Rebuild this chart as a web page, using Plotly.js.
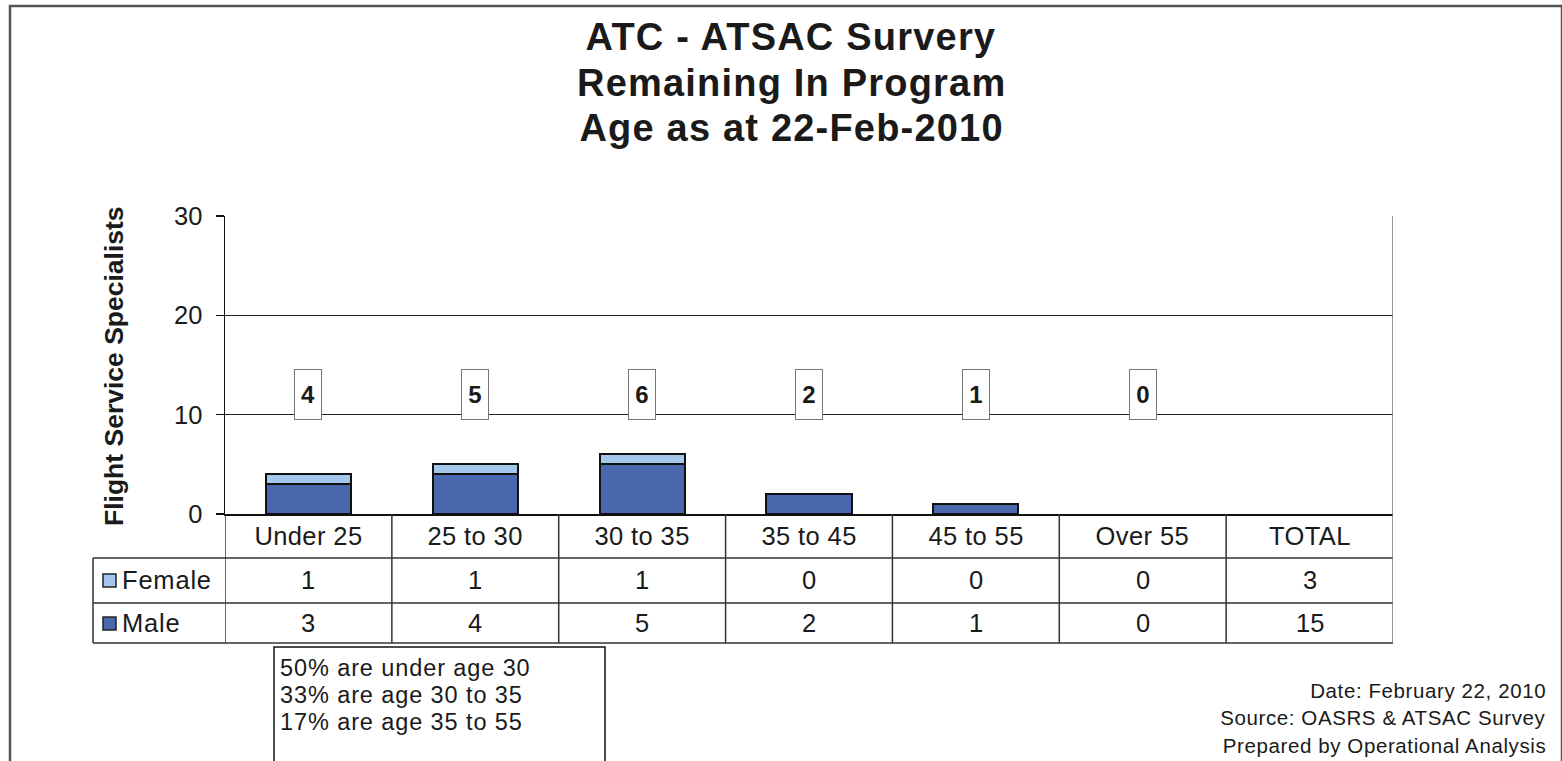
<!DOCTYPE html>
<html>
<head>
<meta charset="utf-8">
<script src="https://cdn.plot.ly/plotly-3.0.1.min.js"></script>
<style>html,body{margin:0;padding:0;background:#fff;}#chart{width:1562px;height:761px;}</style>
</head>
<body>
<div id="chart"></div>
<script>
// ---- data ----
const categories = ["Under 25", "25 to 30", "30 to 35", "35 to 45", "45 to 55", "Over 55"];
const totalLabel = "TOTAL";
const femaleCounts = [1, 1, 1, 0, 0, 0];
const maleCounts = [3, 4, 5, 2, 1, 0];
const titleLines = ["ATC - ATSAC Survery", "Remaining In Program", "Age as at 22-Feb-2010"];
const yAxisTitle = "Flight Service Specialists";
const yTicks = [0, 10, 20, 30];
const noteLines = ["50% are under age 30", "33% are age 30 to 35", "17% are age 35 to 55"];
const footerLines = ["Date: February 22, 2010", "Source: OASRS & ATSAC Survey", "Prepared by Operational Analysis"];

// ---- derived ----
const sum = a => a.reduce((s, v) => s + v, 0);
const allCats = categories.concat([totalLabel]);
const femaleTable = femaleCounts.concat([sum(femaleCounts)]);
const maleTable = maleCounts.concat([sum(maleCounts)]);
const groupTotals = categories.map((c, i) => femaleCounts[i] + maleCounts[i]);

const W = 1562, H = 761;
const px = x => x / W;
const py = y => 1 - y / H;
const FONT = "Liberation Sans, Arial, sans-serif";
const MALE_COLOR = "#4a66ad";
const FEMALE_COLOR = "#a3c8ec";
const TXT = "#1a1a1a";

const edge = vals => vals.map(v => (v ? 2 : 0));
const traces = [
  {type: "bar", name: "Male", x: categories, y: maleCounts, width: 0.51,
   marker: {color: MALE_COLOR, line: {color: "#111", width: edge(maleCounts)}}, hoverinfo: "x+y+name"},
  {type: "bar", name: "Female", x: categories, y: femaleCounts, width: 0.51,
   marker: {color: FEMALE_COLOR, line: {color: "#111", width: edge(femaleCounts)}}, hoverinfo: "x+y+name"}
];

const annotations = [];
const spacing = [];  // letter spacing per annotation (px)
const shapes = [];
const addAnn = (a, ls) => { annotations.push(a); spacing.push(ls || 0); };

// title
const titleY = [37, 83, 128];
titleLines.forEach((t, i) => addAnn({
  xref: "paper", yref: "paper", x: px(791), y: py(titleY[i]), xanchor: "center", yanchor: "middle",
  text: "<b>" + t + "</b>", showarrow: false, font: {family: FONT, size: 38, color: TXT}
}, 1.2));

// y axis title
addAnn({
  xref: "paper", yref: "paper", x: px(114), y: py(366), xanchor: "center", yanchor: "middle",
  text: "<b>" + yAxisTitle + "</b>", textangle: -90, showarrow: false,
  font: {family: FONT, size: 26.5, color: TXT}
}, 0);

// boxed total labels above bars
const labelLevel = 12;
categories.forEach((c, i) => addAnn({
  xref: "x", yref: "y", x: c, y: labelLevel, xanchor: "center", yanchor: "middle",
  text: "<b>" + groupTotals[i] + "</b>", showarrow: false,
  width: 26, height: 49, borderpad: 0, bgcolor: "#fff", bordercolor: "#777", borderwidth: 1,
  font: {family: FONT, size: 24, color: TXT}
}, 0));

// data table
const rowHeader = 536, rowFemale = 580, rowMale = 623;
const TF = {family: FONT, size: 25.5, color: TXT};
allCats.forEach((c, i) => {
  addAnn({xref: "x", yref: "paper", x: c, y: py(rowHeader), yanchor: "middle",
    text: c, showarrow: false, font: TF}, 0.4);
  addAnn({xref: "x", yref: "paper", x: c, y: py(rowFemale), yanchor: "middle",
    text: String(femaleTable[i]), showarrow: false, font: TF}, 0);
  addAnn({xref: "x", yref: "paper", x: c, y: py(rowMale), yanchor: "middle",
    text: String(maleTable[i]), showarrow: false, font: TF}, 0);
});
[["Female", rowFemale, FEMALE_COLOR], ["Male", rowMale, MALE_COLOR]].forEach(([name, row, col]) => {
  addAnn({xref: "paper", yref: "paper", x: px(120), y: py(row), xanchor: "left", yanchor: "middle", align: "left",
    text: name, showarrow: false, font: TF}, 0.8);
  shapes.push({type: "rect", xref: "paper", yref: "paper", x0: px(103), x1: px(116), y0: py(row - 6), y1: py(row + 7),
    fillcolor: col, line: {color: "#222", width: 1.5}});
});

// table lines
const lineCol = "#333";
[558, 603, 643].forEach(y => shapes.push({type: "line", xref: "paper", yref: "paper",
  x0: px(93), x1: px(1393), y0: py(y), y1: py(y), line: {color: lineCol, width: 1.5}}));
shapes.push({type: "line", xref: "paper", yref: "paper", x0: px(93), x1: px(93), y0: py(558), y1: py(643),
  line: {color: lineCol, width: 1.5}});
for (let k = 0; k <= allCats.length; k++) {
  shapes.push({type: "line", xref: "x", yref: "paper", x0: k - 0.5, x1: k - 0.5,
    y0: py(k === allCats.length ? 216 : 514), y1: py(643), line: {color: k === allCats.length ? "#777" : lineCol, width: 1.5}});
}

// note box
shapes.push({type: "rect", xref: "paper", yref: "paper", x0: px(274), x1: px(605), y0: py(647), y1: py(790),
  line: {color: "#111", width: 1.5}, fillcolor: "rgba(0,0,0,0)"});
noteLines.forEach((t, i) => addAnn({xref: "paper", yref: "paper", x: px(278), y: py(668 + 27 * i),
  xanchor: "left", yanchor: "middle", align: "left", text: t, showarrow: false,
  font: {family: FONT, size: 23.5, color: TXT}}, 0.9));

// footer
footerLines.forEach((t, i) => addAnn({xref: "paper", yref: "paper", x: px(1548), y: py(690 + 27.5 * i),
  xanchor: "right", yanchor: "middle", align: "right", text: t, showarrow: false,
  font: {family: FONT, size: 20.5, color: TXT}}, 0.6));

// outer frame
shapes.push({type: "rect", xref: "paper", yref: "paper", x0: px(10), x1: px(1562), y0: py(6), y1: py(790),
  line: {color: "#555", width: 2.5}, fillcolor: "rgba(0,0,0,0)"});

const layout = {
  width: W, height: H, margin: {l: 0, r: 0, t: 0, b: 0},
  paper_bgcolor: "#fff", plot_bgcolor: "#fff",
  barmode: "stack", showlegend: false,
  font: {family: FONT, color: TXT},
  xaxis: {domain: [px(225), px(1393)], range: [-0.5, allCats.length - 0.5], type: "category",
    categoryarray: allCats, categoryorder: "array",
    showticklabels: false, ticks: "", showgrid: false, zeroline: false,
    showline: true, linecolor: "#111", linewidth: 2, fixedrange: true},
  yaxis: {domain: [py(514), py(216)], range: [0, 30], tickvals: yTicks, ticktext: yTicks.map(String),
    ticks: "outside", ticklen: 8, tickcolor: "#111", tickwidth: 1.5,
    tickfont: {family: FONT, size: 25.5, color: TXT}, ticklabelstandoff: 8,
    showgrid: true, gridcolor: "#222", gridwidth: 1.2, zeroline: false,
    showline: true, linecolor: "#111", linewidth: 1.5, fixedrange: true},
  annotations: annotations, shapes: shapes
};

Plotly.newPlot("chart", traces, layout, {displayModeBar: false, staticPlot: true}).then(gd => {
  gd.querySelectorAll(".annotation").forEach(g => {
    const idx = +g.getAttribute("data-index");
    const ls = spacing[idx];
    if (ls) {
      const t = g.querySelector(".annotation-text");
      if (t) t.style.letterSpacing = ls + "px";
    }
  });
});
</script>
</body>
</html>
